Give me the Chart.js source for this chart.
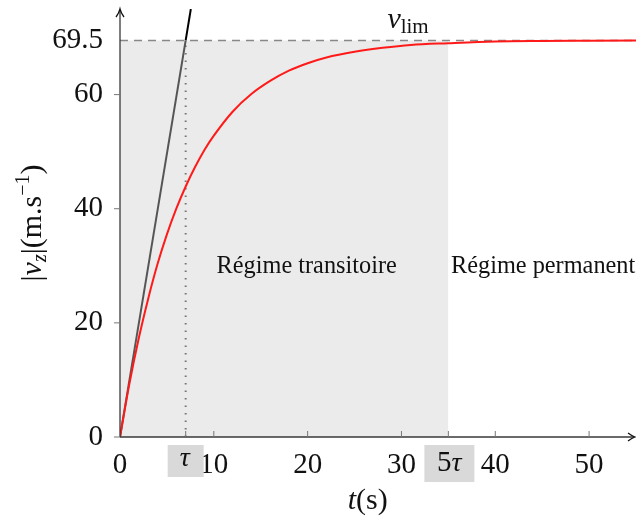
<!DOCTYPE html>
<html>
<head>
<meta charset="utf-8">
<script src="https://cdn.jsdelivr.net/npm/chart.js@4.4.0/dist/chart.umd.min.js"></script>
<style>
html, body { margin: 0; padding: 0; background: #fff; }
#wrap { width: 636px; height: 523px; }
</style>
</head>
<body>
<div id="wrap"><canvas id="myChart"></canvas></div>
<script>
// values
var tVals = [0, 1, 2, 3, 4, 5, 6, 7, 8, 9, 10, 12, 14, 16, 18, 20, 22, 25, 28, 31, 35, 40, 45, 50, 55];
var vVals = [0, 9.3, 17.3, 24.2, 30.3, 35.5, 40.0, 43.9, 47.3, 50.3, 52.8, 57.0, 60.1, 62.4, 64.2, 65.5, 66.5, 67.5, 68.2, 68.7, 69.0, 69.3, 69.4, 69.45, 69.5];
var vLim = 69.5;
var tau = 7;
var transEnd = 35;
var xTicks = [0, 10, 20, 30, 40, 50];
var yTicks = [0, 20, 40, 60, 69.5];
var tangentLow = [[0, 0], [7, 69.5]];
var tangentHigh = [[7, 69.5], [7.55, 75]];

var serif = "'Liberation Serif', 'DejaVu Serif', serif";

function pts(xs, ys) {
    return xs.map(function (x, i) { return { x: x, y: ys[i] }; });
}
function pairs(arr) {
    return arr.map(function (p) { return { x: p[0], y: p[1] }; });
}

// draw a row of text pieces: [text, size, italic, dy]
function drawPieces(c, pieces, x, y, align) {
    var total = 0;
    pieces.forEach(function (p) {
        c.font = (p[2] ? 'italic ' : '') + p[1] + 'px ' + serif;
        total += c.measureText(p[0]).width;
    });
    var cx = align === 'center' ? x - total / 2 : x;
    c.textAlign = 'left';
    c.textBaseline = 'alphabetic';
    pieces.forEach(function (p) {
        c.font = (p[2] ? 'italic ' : '') + p[1] + 'px ' + serif;
        c.fillText(p[0], cx, y + (p[3] || 0));
        cx += c.measureText(p[0]).width;
    });
}

var extras = {
    id: 'extras',
    afterDraw: function (chart) {
        var c = chart.ctx, xs = chart.scales.x, ys = chart.scales.y, a = chart.chartArea;
        var x0 = xs.getPixelForValue(0), y0 = ys.getPixelForValue(0);
        c.save();
        // axes
        c.strokeStyle = '#3a3a3a';
        c.lineWidth = 1.3;
        c.beginPath();
        c.moveTo(x0, y0); c.lineTo(a.right - 2, y0);
        c.moveTo(x0, y0); c.lineTo(x0, a.top + 1);
        c.stroke();
        c.strokeStyle = '#111';
        c.beginPath();
        c.moveTo(a.right - 8, y0 - 4); c.quadraticCurveTo(a.right - 4, y0 - 1, a.right - 1, y0); c.quadraticCurveTo(a.right - 4, y0 + 1, a.right - 8, y0 + 4);
        c.moveTo(x0 - 4, a.top + 8); c.quadraticCurveTo(x0 - 1, a.top + 4, x0, a.top); c.quadraticCurveTo(x0 + 1, a.top + 4, x0 + 4, a.top + 8);
        c.stroke();
        // tick marks
        c.strokeStyle = '#777';
        c.lineWidth = 1;
        c.beginPath();
        xTicks.concat([tau, transEnd]).forEach(function (t) {
            if (t === 0) return;
            var px = xs.getPixelForValue(t);
            c.moveTo(px, y0); c.lineTo(px, y0 - 6);
        });
        yTicks.forEach(function (v) {
            if (v === vLim) return;
            var py = ys.getPixelForValue(v);
            c.moveTo(x0 - 6, py); c.lineTo(x0, py);
        });
        c.stroke();

        // tau boxes under the axis
        c.fillStyle = '#d9d9d9';
        var pt = xs.getPixelForValue(tau), p5 = xs.getPixelForValue(transEnd);
        c.fillRect(pt - 18, y0 + 8, 36, 32);
        c.fillRect(p5 - 24, y0 + 8, 50, 37);
        c.fillStyle = '#111';
        drawPieces(c, [['\u03c4', 28, true]], pt - 1, y0 + 29, 'center');
        drawPieces(c, [['5', 29, false], ['\u03c4', 28, true]], p5 + 1, y0 + 34, 'center');

        // region labels
        var yr = ys.getPixelForValue(30);
        drawPieces(c, [['R\u00e9gime transitoire', 24.3, false]], xs.getPixelForValue(19.9), yr + 7, 'center');
        drawPieces(c, [['R\u00e9gime permanent', 24.3, false]], xs.getPixelForValue(45.1), yr + 7, 'center');

        // v_lim
        drawPieces(c, [['v', 30, true], ['lim', 21, false, 5]], xs.getPixelForValue(28.5), ys.getPixelForValue(71.7), 'left');

        // axis titles
        drawPieces(c, [['t', 30, true], ['(s)', 30, false]], xs.getPixelForValue(26.4), 509, 'center');
        c.translate(41, ys.getPixelForValue(37.5));
        c.rotate(-Math.PI / 2);
        drawPieces(c, [['|', 30, false], ['v', 30, true], ['z', 20, true, 5], ['|(m.s', 30, false], ['\u22121', 20, false, -12], [')', 30, false]], 0, 0, 'center');
        c.restore();
    }
};

var ctx = document.getElementById('myChart').getContext('2d');
var myChart = new Chart(ctx, {
    type: 'scatter',
    data: {
        datasets: [
            {
                label: 'v',
                data: pts(tVals, vVals),
                showLine: true,
                borderColor: '#ff1a1a',
                borderWidth: 2,
                pointRadius: 0,
                cubicInterpolationMode: 'monotone',
                order: 0
            },
            {
                label: 'tangente',
                data: pairs(tangentLow),
                showLine: true,
                borderColor: '#555',
                borderWidth: 2,
                pointRadius: 0,
                order: 1
            },
            {
                label: 'tangente haut',
                data: pairs(tangentHigh),
                showLine: true,
                borderColor: '#000',
                borderWidth: 2,
                pointRadius: 0,
                order: 1
            },
            {
                label: 'vlim',
                data: [{ x: 0, y: vLim }, { x: 55, y: vLim }],
                showLine: true,
                borderColor: '#888',
                borderWidth: 1.5,
                borderDash: [8, 6],
                pointRadius: 0,
                order: 2
            },
            {
                label: 'tau',
                data: [{ x: tau, y: 0 }, { x: tau, y: vLim }],
                showLine: true,
                borderColor: '#777',
                borderWidth: 2,
                borderDash: [1.5, 6],
                pointRadius: 0,
                order: 2
            },
            {
                label: 'transitoire',
                data: [{ x: 0, y: vLim }, { x: transEnd, y: vLim }],
                showLine: true,
                borderColor: 'rgba(0,0,0,0)',
                borderWidth: 0,
                backgroundColor: '#ebebeb',
                fill: 'origin',
                pointRadius: 0,
                order: 10
            }
        ]
    },
    options: {
        responsive: true,
        maintainAspectRatio: false,
        animation: false,
        layout: { padding: { top: 9, right: 0, left: 0, bottom: 0 } },
        plugins: { legend: { display: false }, tooltip: { enabled: false } },
        scales: {
            x: {
                type: 'linear', min: 0, max: 55,
                grid: { display: false, drawTicks: false },
                border: { display: false },
                afterBuildTicks: function (s) { s.ticks = xTicks.map(function (v) { return { value: v }; }); },
                afterFit: function (s) { s.height = 86; s.paddingLeft = 0; s.paddingRight = 0; },
                ticks: { color: '#111', padding: 11, maxRotation: 0, font: { family: serif, size: 29 } }
            },
            y: {
                type: 'linear', min: 0, max: 75,
                grid: { display: false, drawTicks: false },
                border: { display: false },
                afterBuildTicks: function (s) { s.ticks = yTicks.map(function (v) { return { value: v }; }); },
                afterFit: function (s) { s.width = 120; s.paddingTop = 0; s.paddingBottom = 0; },
                ticks: { color: '#111', padding: 17, font: { family: serif, size: 29 } }
            }
        }
    },
    plugins: [extras]
});
</script>
</body>
</html>
